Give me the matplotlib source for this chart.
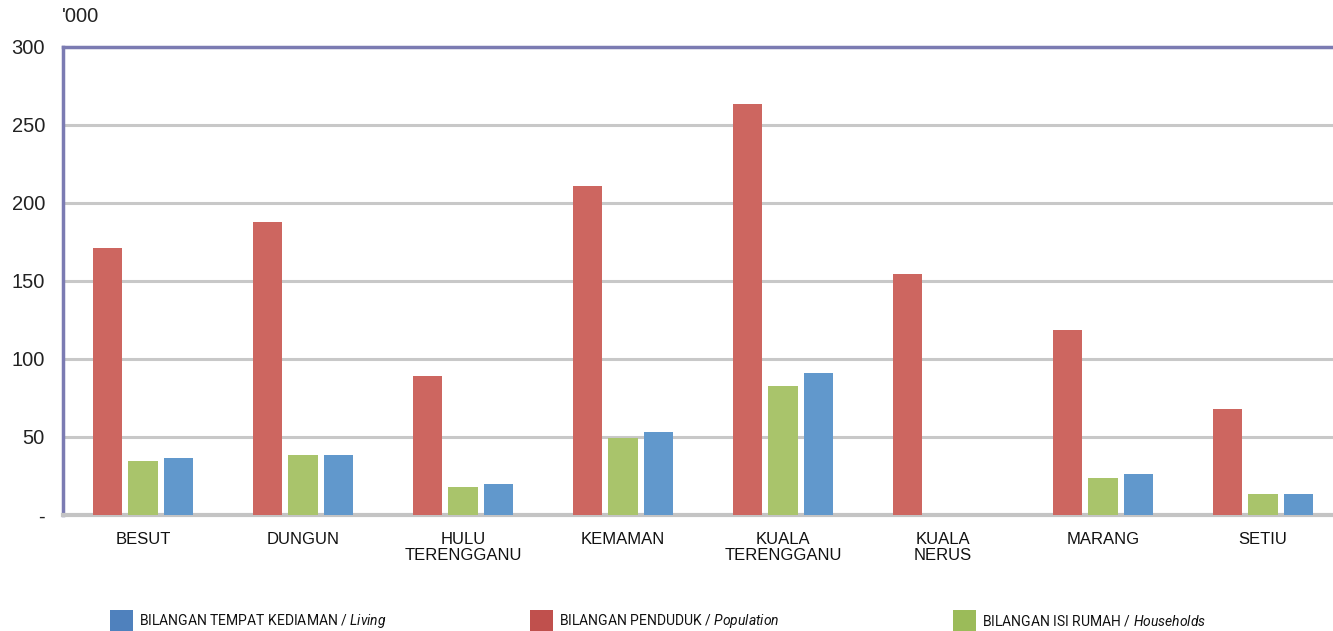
import matplotlib
matplotlib.use("Agg")
import matplotlib.pyplot as plt
from matplotlib.patches import Rectangle
import numpy as np

categories = ["BESUT", "DUNGUN", "HULU\nTERENGGANU", "KEMAMAN", "KUALA\nTERENGGANU",
              "KUALA\nNERUS", "MARANG", "SETIU"]
population = [171, 188, 89, 211, 263.5, 154.5, 118.5, 68]
households = [34.5, 38.5, 18, 49.5, 82.5, 0, 23.5, 13.5]
living = [36.5, 38.5, 20, 53, 91, 0, 26, 13.5]
yticks = [0, 50, 100, 150, 200, 250, 300]
yticklabels = ["-", "50", "100", "150", "200", "250", "300"]

plt.rcParams['font.family'] = ['Liberation Sans', 'DejaVu Sans']
plt.rcParams['mathtext.fontset'] = 'custom'
plt.rcParams['mathtext.it'] = 'Roboto:italic'
plt.rcParams['mathtext.rm'] = 'Roboto'

W, H = 1333, 631
fig = plt.figure(figsize=(W/100, H/100), dpi=100)
fig.patch.set_facecolor('white')

left = 63 / W
right = 1343 / W
bottom = 1 - 515 / H
top = 1 - 47 / H
ax = fig.add_axes([left, bottom, right - left, top - bottom])
ax.set_facecolor('none')

x = np.arange(len(categories))
bw = 0.185
off = 0.222
ax.bar(x - off, population, bw, color='#CD6660', zorder=3)
ax.bar(x, households, bw, color='#A9C46B', zorder=3)
ax.bar(x + off, living, bw, color='#6198CC', zorder=3)

ax.set_xlim(-0.5, len(categories) - 0.5)
ax.set_ylim(0, 300)
ax.set_yticks(yticks)
ax.set_yticklabels(yticklabels, fontsize=14.5, color='#222222')
ax.set_xticks(x)
ax.set_xticklabels(categories, fontsize=12, color='#111111', linespacing=1.15)
ax.tick_params(axis='both', length=0)
ax.tick_params(axis='y', pad=13)
ax.tick_params(axis='x', pad=12)
ax.get_yticklabels()[0].set_y(-4)

ax.yaxis.grid(True, color='#C8C8C8', linewidth=2.2, zorder=0)
ax.set_axisbelow(True)

for s in ['top', 'left']:
    ax.spines[s].set_color('#7B7BB2')
    ax.spines[s].set_linewidth(2.5)
ax.spines['right'].set_visible(False)
ax.spines['bottom'].set_color('#C4C4C4')
ax.spines['bottom'].set_linewidth(3)
ax.spines['top'].set_zorder(5)

fig.text(62 / W, 1 - 17 / H, "'000", fontsize=14.5, color='#222222', va='center', ha='left')

legend_items = [
    (110, '#4F81BD', r'BILANGAN TEMPAT KEDIAMAN / $\it{Living}$'),
    (530, '#C0504D', r'BILANGAN PENDUDUK / $\it{Population}$'),
    (953, '#9BBB59', r'BILANGAN ISI RUMAH / $\it{Households}$'),
]
for px, col, txt in legend_items:
    fig.add_artist(Rectangle((px / W, 0), 23 / W, 21 / H, transform=fig.transFigure,
                             facecolor=col, edgecolor='none'))
    fig.text((px + 29) / W, 1 - 621 / H, txt, fontsize=10,
             family=['Roboto', 'Liberation Sans'], color='#111111',
             va='center', ha='left')

fig.savefig('out.png', dpi=100)
